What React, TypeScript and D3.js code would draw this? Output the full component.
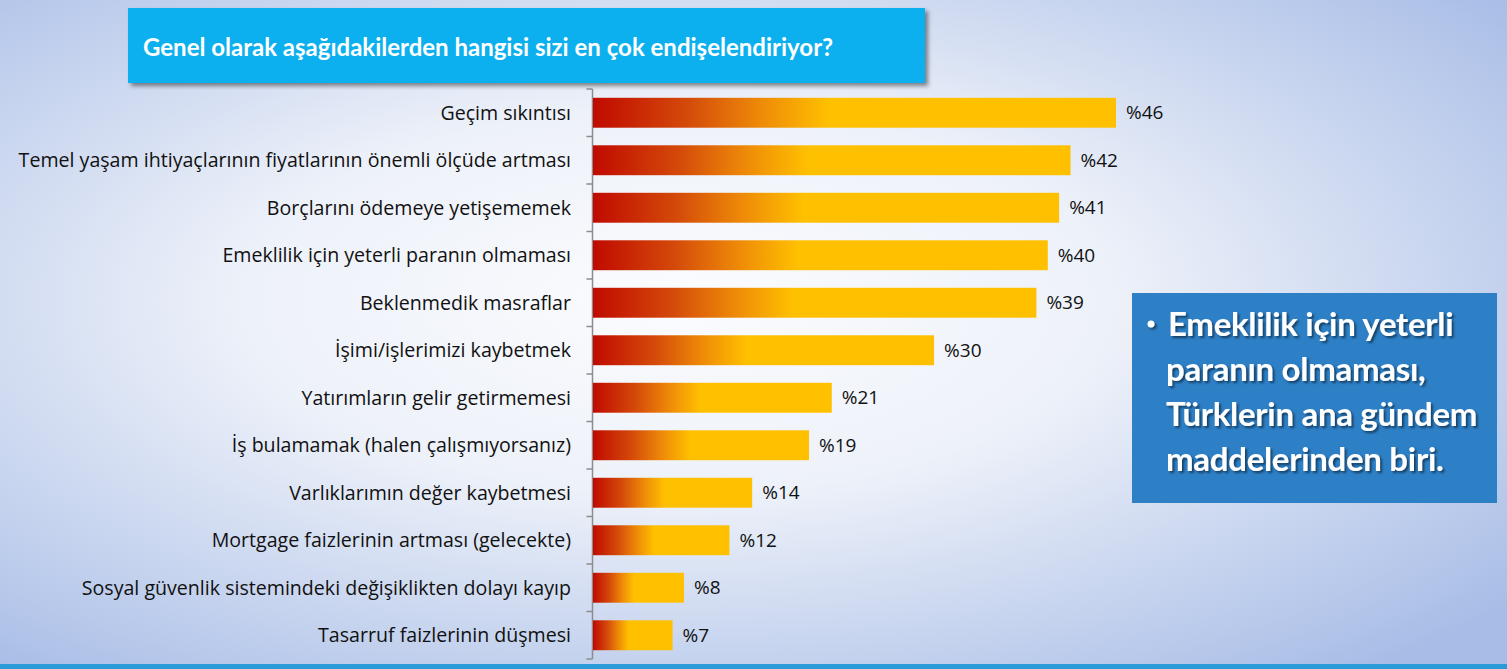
import React, { useEffect, useRef } from 'react';
import { select, scaleLinear, scaleBand } from 'd3';

const categories = [
  'Geçim sıkıntısı',
  'Temel yaşam ihtiyaçlarının fiyatlarının önemli ölçüde artması',
  'Borçlarını ödemeye yetişememek',
  'Emeklilik için yeterli paranın olmaması',
  'Beklenmedik masraflar',
  'İşimi/işlerimizi kaybetmek',
  'Yatırımların gelir getirmemesi',
  'İş bulamamak (halen çalışmıyorsanız)',
  'Varlıklarımın değer kaybetmesi',
  'Mortgage faizlerinin artması (gelecekte)',
  'Sosyal güvenlik sistemindeki değişiklikten dolayı kayıp',
  'Tasarruf faizlerinin düşmesi',
];
const values = [46, 42, 41, 40, 39, 30, 21, 19, 14, 12, 8, 7];

const title = 'Genel olarak aşağıdakilerden hangisi sizi en çok endişelendiriyor?';
const noteLines = ['Emeklilik için yeterli', 'paranın olmaması,', 'Türklerin ana gündem', 'maddelerinden biri.'];

const W = 1507;
const H = 669;
const FONT = '"Open Sans", Lato, sans-serif';

export default function App() {
  const svgRef = useRef<SVGSVGElement>(null);

  useEffect(() => {
    if (!svgRef.current) return;
    const svg = select(svgRef.current);
    svg.selectAll('*').remove();

    const defs = svg.append('defs');
    const bg = defs.append('radialGradient').attr('id', 'bg')
      .attr('cx', '45%').attr('cy', '45%').attr('r', '72%');
    bg.append('stop').attr('offset', '0%').attr('stop-color', '#fbfcfe');
    bg.append('stop').attr('offset', '40%').attr('stop-color', '#edf1f9');
    bg.append('stop').attr('offset', '100%').attr('stop-color', '#a7bce6');

    const barGrad = defs.append('linearGradient').attr('id', 'barGrad')
      .attr('x1', '0%').attr('x2', '100%').attr('y1', '0%').attr('y2', '0%');
    barGrad.append('stop').attr('offset', '0%').attr('stop-color', '#c00a00');
    barGrad.append('stop').attr('offset', '18%').attr('stop-color', '#d44a0a');
    barGrad.append('stop').attr('offset', '32%').attr('stop-color', '#ee8a08');
    barGrad.append('stop').attr('offset', '45%').attr('stop-color', '#ffc000');
    barGrad.append('stop').attr('offset', '100%').attr('stop-color', '#ffc000');

    const shadow = defs.append('filter').attr('id', 'shadow')
      .attr('x', '-5%').attr('y', '-10%').attr('width', '115%').attr('height', '130%');
    shadow.append('feDropShadow').attr('dx', 3).attr('dy', 3).attr('stdDeviation', 2)
      .attr('flood-color', '#000').attr('flood-opacity', 0.45);

    const txtShadow = defs.append('filter').attr('id', 'txtShadow')
      .attr('x', '-5%').attr('y', '-20%').attr('width', '115%').attr('height', '150%');
    txtShadow.append('feDropShadow').attr('dx', 2).attr('dy', 2).attr('stdDeviation', 1)
      .attr('flood-color', '#000').attr('flood-opacity', 0.5);

    svg.append('rect').attr('width', W).attr('height', H).attr('fill', 'url(#bg)');

    // bottom strip
    svg.append('rect').attr('x', 0).attr('y', 664).attr('width', W).attr('height', 5).attr('fill', '#2a9ad8');

    // title box
    svg.append('rect').attr('x', 128).attr('y', 8).attr('width', 797).attr('height', 75)
      .attr('fill', '#0cb0ee').attr('filter', 'url(#shadow)');
    svg.append('text').attr('x', 143).attr('y', 56)
      .style('font-family', 'Lato, "Open Sans", sans-serif')
      .style('font-size', '24px').style('font-weight', 700).style('fill', '#fff')
      .text(title);

    const x = scaleLinear().domain([0, 46]).range([593, 1116]);
    const y = scaleBand<string>().domain(categories).range([89, 659]).paddingInner(0.37).paddingOuter(0.185);

    const g = svg.append('g');

    // axis with ticks at band boundaries
    const axisG = g.append('g').attr('transform', 'translate(592.5,0)');
    axisG.append('line').attr('y1', 89).attr('y2', 659).attr('stroke', '#8c8c8c').attr('stroke-width', 1.5);
    const step = y.step();
    const bounds = categories.map((_, i) => 89 + i * step).concat([659]);
    axisG.selectAll('line.tick').data(bounds).join('line').attr('class', 'tick')
      .attr('x1', -6).attr('x2', 0).attr('y1', (d) => d).attr('y2', (d) => d)
      .attr('stroke', '#8c8c8c').attr('stroke-width', 1.5);

    g.selectAll('rect.bar').data(values).join('rect').attr('class', 'bar')
      .attr('x', x(0))
      .attr('y', (_, i) => y(categories[i])!)
      .attr('width', (d) => x(d) - x(0))
      .attr('height', y.bandwidth())
      .attr('fill', 'url(#barGrad)');

    g.selectAll('text.cat').data(categories).join('text').attr('class', 'cat')
      .attr('x', 571)
      .attr('y', (d) => y(d)! + y.bandwidth() / 2)
      .attr('dy', '0.35em')
      .attr('text-anchor', 'end')
      .style('font-family', FONT)
      .style('font-size', '19.6px').style('fill', '#111')
      .text((d) => d);

    g.selectAll('text.val').data(values).join('text').attr('class', 'val')
      .attr('x', (d) => x(d) + 10)
      .attr('y', (_, i) => y(categories[i])! + y.bandwidth() / 2)
      .attr('dy', '0.35em')
      .style('font-family', FONT)
      .style('font-size', '19px').style('fill', '#111')
      .text((d) => `%${d}`);

    // note box
    svg.append('rect').attr('x', 1132).attr('y', 293).attr('width', 365).attr('height', 210)
      .attr('fill', '#2d7fc6');
    const note = svg.append('g').attr('filter', 'url(#txtShadow)')
      .style('font-family', 'Lato, "Open Sans", sans-serif')
      .style('font-weight', 700).style('fill', '#fff');
    note.append('circle').attr('cx', 1151).attr('cy', 324).attr('r', 3.5);
    note.selectAll('text.line').data(noteLines).join('text').attr('class', 'line')
      .attr('x', (_, i) => (i === 0 ? 1168 : 1166))
      .attr('y', (_, i) => 336 + i * 45)
      .style('font-size', '33px').style('letter-spacing', '-0.3px')
      .text((d) => d);
  }, []);

  return (
    <div style={{ position: 'absolute', left: 0, top: 0 }}>
      <svg ref={svgRef} width={W} height={H} style={{ display: 'block' }} />
    </div>
  );
}
